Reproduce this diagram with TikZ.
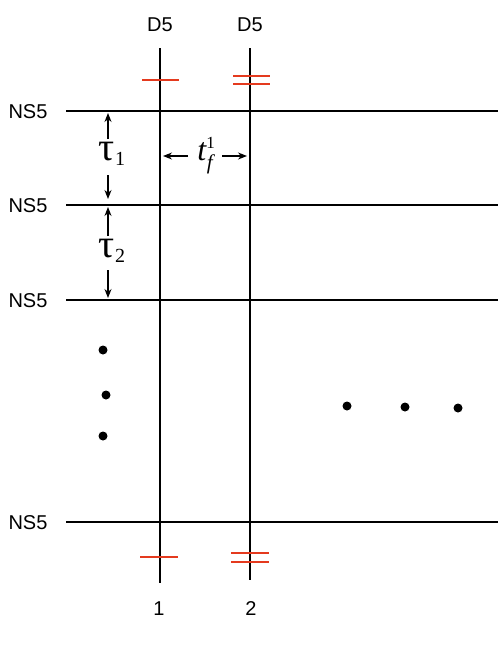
\documentclass[tikz,border=0pt]{standalone}
\usepackage{amsmath}
\usepackage{fontspec}
\setmainfont{Liberation Sans}
\newfontfamily\symfont{Liberation Serif}
\usetikzlibrary{arrows.meta}

\definecolor{cutred}{RGB}{228,58,30}
\tikzset{
  brane/.style={line width=1.6pt},
  cut/.style={cutred, line width=1.2pt},
  gap/.style={-{Stealth[length=9pt,width=7pt]}, line width=1.2pt},
  dot/.style={circle, fill, inner sep=0pt, minimum size=9pt},
  lab/.style={font=\fontsize{20}{22}\selectfont, inner sep=0pt},
  dist/.style={inner sep=1pt}
}
% tau with a subscript, as text
\newcommand{\tauof}[1]{{\symfont\fontsize{40}{42}\selectfont τ}\raisebox{-5pt}{\symfont\fontsize{20}{22}\selectfont #1}}

\begin{document}
\begin{tikzpicture}[x=1pt, y=-1pt]
  \useasboundingbox (0,0) rectangle (498,645);
  % NS5 branes
  \foreach \n/\y in {a/111, b/205, c/300, d/522} {
    \coordinate (ns\n-l) at (66,\y);
    \coordinate (ns\n-r) at (498,\y);
    \draw[brane] (ns\n-l) -- (ns\n-r);
    \node[lab] (nslab\n) at (28,\y+1) {NS5};
  }
  % D5 branes
  \coordinate (d1-t) at (160,48);  \coordinate (d1-b) at (160,583);
  \coordinate (d2-t) at (250,48);  \coordinate (d2-b) at (250,580);
  \draw[brane] (d1-t) -- (d1-b);
  \draw[brane] (d2-t) -- (d2-b);
  \node[lab] (dlab1) at (160,24.5) {D5};
  \node[lab] (dlab2) at (250,24.5) {D5};
  \node[lab] (num1) at (159,609) {1};
  \node[lab] (num2) at (251,609) {2};
  % red marks on the semi-infinite ends
  \draw[cut] (142,80) -- (179,80);
  \draw[cut] (233,76) -- (270,76);
  \draw[cut] (233,84) -- (270,84);
  \draw[cut] (140,557) -- (178,557);
  \draw[cut] (231,553) -- (269,553);
  \draw[cut] (231,562) -- (269,562);
  % distances
  \node[dist] (tau1) at (112,154) {\tauof{1}};
  \node[dist] (tau2) at (112,251) {\tauof{2}};
  \node[dist] (tf) at (205,156)
    {{\symfont\itshape\fontsize{32}{34}\selectfont t}\raisebox{12pt}{\symfont\fontsize{17}{18}\selectfont 1}\kern-8pt\raisebox{-9pt}{\symfont\itshape\fontsize{21}{22}\selectfont f}};
  \draw[gap] (108,139) -- (108,113);
  \draw[gap] (108,175) -- (108,199);
  \draw[gap] (108,236) -- (108,207);
  \draw[gap] (108,270) -- (108,298);
  \draw[gap] (188,156) -- (163,156);
  \draw[gap] (222,156) -- (247,156);
  % dots
  \foreach \i/\p in {1/{(103,350)}, 2/{(106,395)}, 3/{(103,436)},
                     4/{(347,406)}, 5/{(405,407)}, 6/{(458,408)}}
    \node[dot] (dot\i) at \p {};
\end{tikzpicture}
\end{document}
